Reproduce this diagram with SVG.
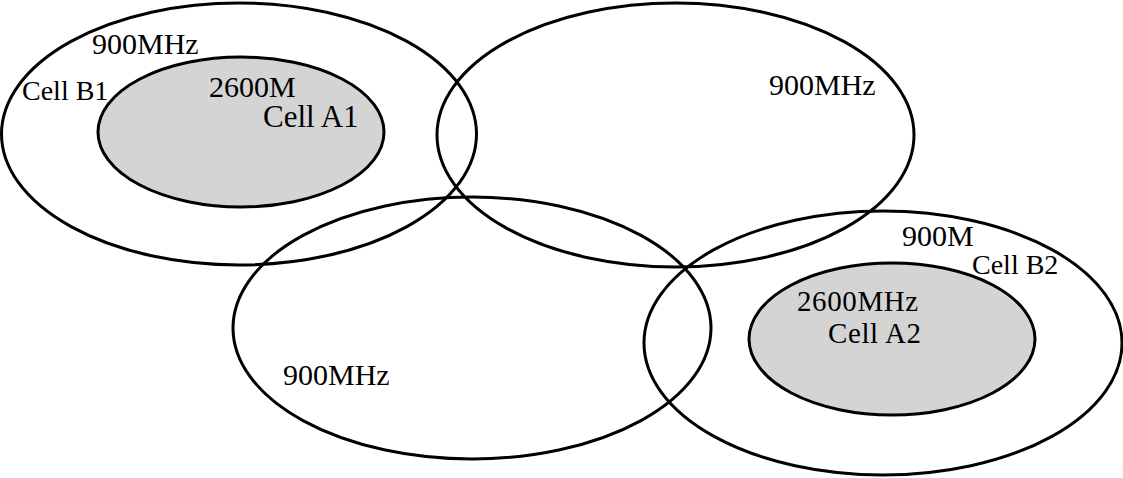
<svg xmlns="http://www.w3.org/2000/svg" width="1123" height="478" viewBox="0 0 1123 478">
<style>
.cell{fill:none;stroke:#000;stroke-width:3}
.inner{fill:#d4d4d4;stroke:#000;stroke-width:3}
text{font-family:"Liberation Serif","Times New Roman",serif;font-size:30px;fill:#000}
.sm{font-size:28px}
.lg{font-size:31px}
.a2{font-size:29px;letter-spacing:0.6px}
</style>
<rect width="1123" height="478" fill="#fff"/>
<g id="cellB1">
<ellipse class="cell" cx="239" cy="134" rx="237.5" ry="131"/>
<text x="92" y="54">900MHz</text>
<text class="sm" x="22" y="100">Cell B1</text>
</g>
<g id="cellA1">
<ellipse class="inner" cx="241" cy="132" rx="143" ry="75"/>
<text x="209" y="97">2600M</text>
<text class="lg" x="263" y="127">Cell A1</text>
</g>
<g id="cellTopRight">
<ellipse class="cell" cx="675.5" cy="135" rx="238.5" ry="132"/>
<text x="769" y="95">900MHz</text>
</g>
<g id="cellBottom">
<ellipse class="cell" cx="472" cy="328" rx="239" ry="131"/>
<text x="283" y="385">900MHz</text>
</g>
<g id="cellB2">
<ellipse class="cell" cx="883" cy="343" rx="239" ry="132"/>
<text x="902" y="246">900M</text>
<text class="sm" x="972" y="274">Cell B2</text>
</g>
<g id="cellA2">
<ellipse class="inner" cx="892" cy="339" rx="143" ry="76"/>
<text class="a2" x="797" y="311">2600MHz</text>
<text class="a2" x="828" y="343">Cell A2</text>
</g>
<g id="connectors"></g>
</svg>
